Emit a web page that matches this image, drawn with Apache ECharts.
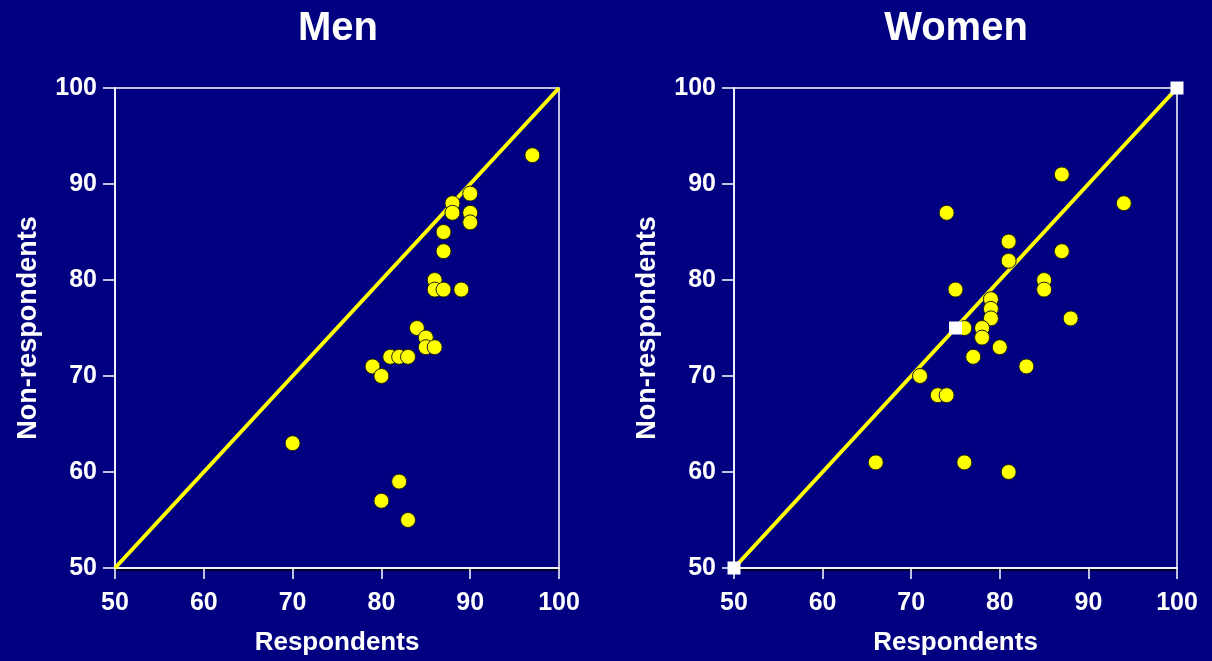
<!DOCTYPE html>
<html>
<head>
<meta charset="utf-8">
<script src="https://cdn.jsdelivr.net/npm/echarts@6/dist/echarts.min.js"></script>
<style>
html,body{margin:0;padding:0;background:#000080;}
#c{width:1212px;height:661px;}
</style>
</head>
<body>
<div id="c"></div>
<script>
// Data
var panelTitles = ['Men', 'Women'];
var xAxisName = 'Respondents';
var yAxisName = 'Non-respondents';
var axisMin = 50, axisMax = 100, axisStep = 10;

var menRespondents    = [90, 88, 88, 90, 90, 87, 87, 86, 86, 87, 89, 84, 85, 85, 86, 81, 82, 83, 79, 80, 70, 82, 80, 83, 97];
var menNonRespondents = [89, 88, 87, 87, 86, 85, 83, 80, 79, 79, 79, 75, 74, 73, 73, 72, 72, 72, 71, 70, 63, 59, 57, 55, 93];

var womenRespondents    = [87, 94, 74, 81, 81, 87, 85, 85, 75, 79, 79, 79, 88, 76, 78, 78, 80, 77, 83, 71, 73, 74, 66, 76, 81];
var womenNonRespondents = [91, 88, 87, 84, 82, 83, 80, 79, 79, 78, 77, 76, 76, 75, 75, 74, 73, 72, 71, 70, 68, 68, 61, 61, 60];

var identityLine = [[50, 50], [100, 100]];
var womenSquaresX = [50, 75, 100];
var womenSquaresY = [50, 75, 100];

function zip(a, b) { return a.map(function (v, i) { return [v, b[i]]; }); }

var chart = echarts.init(document.getElementById('c'), null, {renderer: 'canvas'});

var grids = [
  {left: 115, top: 88, width: 444, height: 485, show: true, borderColor: '#ffffff', borderWidth: 1.5, backgroundColor: 'transparent'},
  {left: 734, top: 88, width: 443, height: 485, show: true, borderColor: '#ffffff', borderWidth: 1.5, backgroundColor: 'transparent'}
];

var fontFam = 'Liberation Sans, Arial, sans-serif';
function mkX(i) {
  return {
    gridIndex: i, type: 'value', min: axisMin, max: axisMax, interval: axisStep,
    name: xAxisName, nameLocation: 'middle', nameGap: 62,
    nameTextStyle: {color: '#fff', fontSize: 26, fontWeight: 'bold', fontFamily: fontFam},
    axisLine: {show: true, lineStyle: {color: '#fff', width: 1.5, shadowColor: '#000', shadowOffsetY: 2, shadowBlur: 0}},
    axisTick: {show: true, inside: false, length: 11, lineStyle: {color: '#fff', width: 1.5}},
    axisLabel: {color: '#fff', fontSize: 25, fontWeight: 'bold', margin: 23, fontFamily: fontFam},
    splitLine: {show: false}
  };
}
function mkY(i) {
  return {
    gridIndex: i, type: 'value', min: axisMin, max: axisMax, interval: axisStep,
    name: yAxisName, nameLocation: 'middle', nameGap: 73, nameRotate: 90,
    nameTextStyle: {color: '#fff', fontSize: 27, fontWeight: 'bold', fontFamily: fontFam},
    axisLine: {show: true, lineStyle: {color: '#fff', width: 1.5}},
    axisTick: {show: true, inside: false, length: 12, lineStyle: {color: '#fff', width: 1.5}},
    axisLabel: {color: '#fff', fontSize: 25, fontWeight: 'bold', margin: 18, fontFamily: fontFam},
    splitLine: {show: false}
  };
}

var circleStyle = {color: '#ffff00', borderColor: '#1a1a1a', borderWidth: 1, opacity: 1};

var option = {
  backgroundColor: '#000080',
  animation: false,
  title: [
    {text: panelTitles[0], left: 333, top: 4, textAlign: 'center',
     textStyle: {color: '#fff', fontSize: 40, fontWeight: 'bold', fontFamily: fontFam}},
    {text: panelTitles[1], left: 951, top: 4, textAlign: 'center',
     textStyle: {color: '#fff', fontSize: 40, fontWeight: 'bold', fontFamily: fontFam}}
  ],
  grid: grids,
  xAxis: [mkX(0), mkX(1)],
  yAxis: [mkY(0), mkY(1)],
  series: [
    {type: 'line', xAxisIndex: 0, yAxisIndex: 0, data: identityLine, symbol: 'none',
     lineStyle: {color: '#ffff00', width: 4}, z: 2},
    {type: 'scatter', xAxisIndex: 0, yAxisIndex: 0, data: zip(menRespondents, menNonRespondents),
     symbol: 'circle', symbolSize: 15, itemStyle: circleStyle, z: 3},
    {type: 'line', xAxisIndex: 1, yAxisIndex: 1, data: identityLine, symbol: 'none',
     lineStyle: {color: '#ffff00', width: 4}, z: 2},
    {type: 'scatter', xAxisIndex: 1, yAxisIndex: 1, data: zip(womenRespondents, womenNonRespondents),
     symbol: 'circle', symbolSize: 15, itemStyle: circleStyle, z: 3},
    {type: 'scatter', xAxisIndex: 1, yAxisIndex: 1, data: zip(womenSquaresX, womenSquaresY),
     symbol: 'rect', symbolSize: 13, itemStyle: {color: '#ffffff', opacity: 1}, z: 4}
  ]
};
chart.setOption(option);
</script>
</body>
</html>
